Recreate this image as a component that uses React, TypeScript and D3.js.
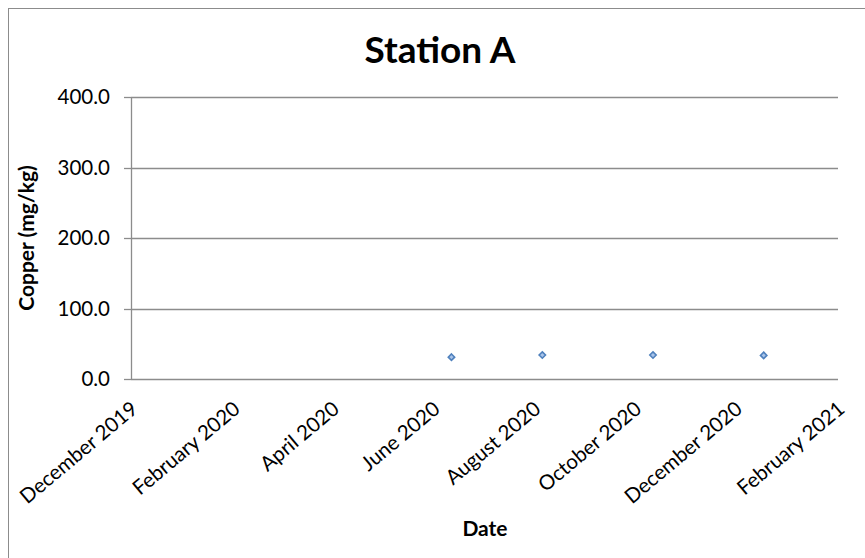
import React from "react";
import * as d3 from "d3";

const sampleDates = ["2020-06-12", "2020-08-06", "2020-10-12", "2020-12-18"];
const copperValues = [31.0, 34.0, 34.0, 33.5];
const yTicks = [0, 100, 200, 300, 400];
const xTickDates = [
  "2019-12-01", "2020-02-01", "2020-04-01", "2020-06-01",
  "2020-08-01", "2020-10-01", "2020-12-01", "2021-02-01",
];
const xTickLabels = [
  "December 2019", "February 2020", "April 2020", "June 2020",
  "August 2020", "October 2020", "December 2020", "February 2021",
];

const parse = (s: string) => new Date(s + "T00:00:00Z");
const FONT = "Lato, 'Open Sans', sans-serif";

export default function App() {
  const left = 131, right = 838, top = 97, bottom = 379;
  const x = d3.scaleUtc().domain([parse(xTickDates[0]), parse(xTickDates[xTickDates.length - 1])]).range([left, right]);
  const y = d3.scaleLinear().domain([0, 400]).range([bottom, top]);
  const fmt = d3.format(".1f");
  const diamond = d3.symbol().type(d3.symbolDiamond2).size(26)() as string;
  const grid = "#8c8c8c";

  return (
    <svg width={865} height={558} style={{ position: "absolute", left: 0, top: 0 }} fontFamily={FONT}>
      <rect x={0} y={0} width={865} height={558} fill="#fff" />
      <rect x={8.5} y={8.5} width={900} height={600} fill="none" stroke="#8c8c8c" strokeWidth={1} />
      <text x={440} y={63} textAnchor="middle" fontSize={37} fontWeight="bold" fill="#000">Station A</text>
      {yTicks.map((t) => (
        <g key={t}>
          <line x1={left} x2={right} y1={Math.round(y(t)) + 0.5} y2={Math.round(y(t)) + 0.5} stroke={grid} strokeWidth={1.3} />
          <line x1={124} x2={left} y1={Math.round(y(t)) + 0.5} y2={Math.round(y(t)) + 0.5} stroke={grid} strokeWidth={1.3} />
          <text x={110} y={y(t)} dy="0.35em" textAnchor="end" fontSize={20.5} fill="#000">{fmt(t)}</text>
        </g>
      ))}
      <line x1={left + 0.5} x2={left + 0.5} y1={top} y2={bottom} stroke={grid} strokeWidth={1.3} />
      {xTickLabels.map((label, i) => (
        <text key={label} transform={`translate(${x(parse(xTickDates[i])) + 8},${411}) rotate(-40)`} textAnchor="end" fontSize={20.5} fill="#000">
          {label}
        </text>
      ))}
      <text x={485} y={536} textAnchor="middle" fontSize={21} fontWeight="bold" fill="#000">Date</text>
      <text transform={`translate(27,238) rotate(-90)`} textAnchor="middle" dy="0.35em" fontSize={21} fontWeight="bold" fill="#000">Copper (mg/kg)</text>
      {sampleDates.map((d, i) => (
        <path key={d} d={diamond} transform={`translate(${x(parse(d))},${y(copperValues[i])})`} fill="#a9c4ea" stroke="#4f81bd" strokeWidth={1.6} />
      ))}
    </svg>
  );
}
